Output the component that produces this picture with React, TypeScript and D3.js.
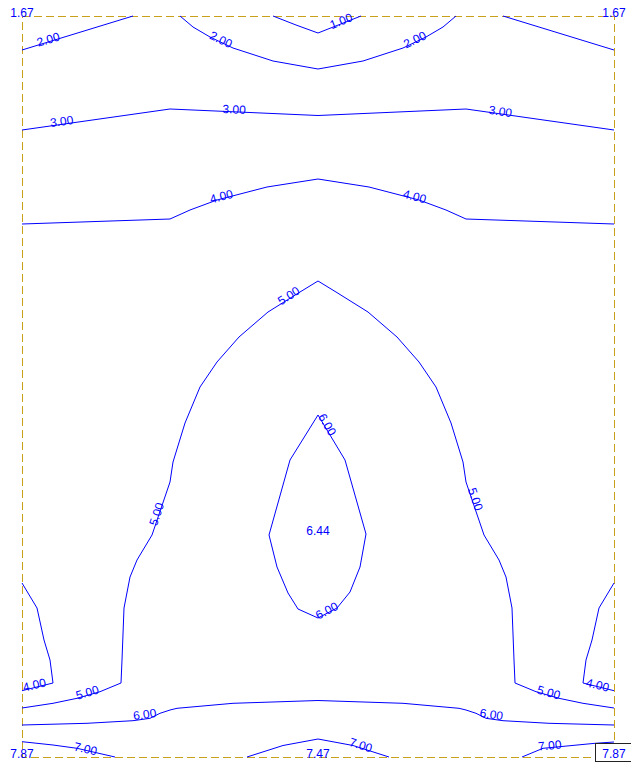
import React from "react";
import * as d3 from "d3";

// Plate extent (m)
const WIDTH_M = 5.92;
const HEIGHT_M = 7.41;

type Pt = [number, number];

// Contour polylines (x, y in m, y measured upward from the bottom edge)
const c100: Pt[] = [[2.51, 7.41], [2.74, 7.32], [2.96, 7.24], [3.39, 7.41]];
const c200a: Pt[] = [[0, 7.07], [1.11, 7.41]];
const c200b: Pt[] = [[1.58, 7.41], [1.71, 7.3], [1.88, 7.2], [2.11, 7.09], [2.51, 6.96], [2.96, 6.88], [3.41, 6.96], [3.81, 7.09], [4.04, 7.2], [4.21, 7.3], [4.34, 7.41]];
const c200c: Pt[] = [[4.81, 7.41], [5.92, 7.07]];
const c300: Pt[] = [[0, 6.27], [1.48, 6.48], [2.96, 6.415], [4.44, 6.48], [5.92, 6.27]];
const c400a: Pt[] = [[0, 5.33], [1.48, 5.38], [1.68, 5.47], [1.95, 5.57], [2.45, 5.7], [2.96, 5.78], [3.47, 5.7], [3.97, 5.57], [4.24, 5.47], [4.44, 5.38], [5.92, 5.33]];
const c400b: Pt[] = [[0, 1.74], [0.15, 1.49], [0.22, 1.17], [0.28, 0.97], [0.31, 0.74], [0, 0.663]];
const c400c: Pt[] = [[5.92, 1.74], [5.77, 1.49], [5.7, 1.17], [5.64, 0.97], [5.61, 0.74], [5.92, 0.663]];
const c500: Pt[] = [
  [0, 0.49], [0.31, 0.537], [0.55, 0.587], [0.78, 0.653], [0.99, 0.74], [1.0, 0.97], [1.02, 1.49], [1.08, 1.8], [1.15, 1.97], [1.3, 2.22], [1.48, 2.75], [1.51, 2.95], [1.63, 3.34], [1.78, 3.7], [1.95, 3.95], [2.17, 4.2], [2.46, 4.45], [2.78, 4.65], [2.96, 4.76],
  [3.14, 4.65], [3.46, 4.45], [3.75, 4.2], [3.97, 3.95], [4.14, 3.7], [4.29, 3.34], [4.41, 2.95], [4.44, 2.75], [4.62, 2.22], [4.77, 1.97], [4.84, 1.8], [4.9, 1.49], [4.92, 0.97], [4.93, 0.74], [5.14, 0.653], [5.37, 0.587], [5.61, 0.537], [5.92, 0.49],
];
const c600a: Pt[] = [[2.96, 3.42], [3.23, 2.97], [3.44, 2.23], [3.38, 1.9], [3.28, 1.65], [3.15, 1.49], [2.96, 1.39], [2.76, 1.48], [2.66, 1.64], [2.55, 1.9], [2.47, 2.22], [2.68, 2.97], [2.96, 3.42]];
const c600b: Pt[] = [[0, 0.32], [0.65, 0.337], [1.11, 0.363], [1.28, 0.387], [1.38, 0.437], [1.48, 0.47], [1.55, 0.487], [2.11, 0.537], [2.96, 0.565], [3.81, 0.537], [4.37, 0.487], [4.44, 0.47], [4.54, 0.437], [4.64, 0.387], [4.81, 0.363], [5.27, 0.337], [5.92, 0.32]];
const c700a: Pt[] = [[0, 0.153], [0.31, 0.12], [0.55, 0.087], [0.93, 0]];
const c700b: Pt[] = [[2.25, 0], [2.61, 0.115], [2.96, 0.18], [3.31, 0.115], [3.67, 0]];
const c700c: Pt[] = [[5.0, 0], [5.21, 0.087], [5.73, 0.137], [5.92, 0.15]];

const contours: { level: string; pts: Pt[] }[] = [
  { level: "1.00", pts: c100 },
  { level: "2.00", pts: c200a },
  { level: "2.00", pts: c200b },
  { level: "2.00", pts: c200c },
  { level: "3.00", pts: c300 },
  { level: "4.00", pts: c400a },
  { level: "4.00", pts: c400b },
  { level: "4.00", pts: c400c },
  { level: "5.00", pts: c500 },
  { level: "6.00", pts: c600a },
  { level: "6.00", pts: c600b },
  { level: "7.00", pts: c700a },
  { level: "7.00", pts: c700b },
  { level: "7.00", pts: c700c },
];

// Contour labels: level and anchor point on the line (m)
const labelLevels = ["1.00", "2.00", "2.00", "2.00", "3.00", "3.00", "3.00", "4.00", "4.00", "4.00", "4.00", "5.00", "5.00", "5.00", "5.00", "5.00", "6.00", "6.00", "6.00", "6.00", "7.00", "7.00", "7.00"];
const labelX = [3.2, 0.27, 1.98, 3.94, 0.4, 2.12, 4.78, 2.0, 3.92, 0.13, 5.75, 2.68, 1.37, 4.51, 0.66, 5.26, 3.03, 3.06, 1.23, 4.69, 0.63, 3.38, 5.28];
const labelY = [7.335, 7.15, 7.15, 7.15, 6.33, 6.45, 6.43, 5.58, 5.58, 0.695, 0.695, 4.59, 2.42, 2.57, 0.62, 0.62, 3.31, 1.44, 0.4, 0.4, 0.055, 0.095, 0.09];

// Node values (corners, extremes)
const nodeText = ["1.67", "1.67", "7.87", "7.47", "7.87", "6.44"];
const nodeX = [0, 5.92, 0, 2.96, 5.92, 2.96];
const nodeY = [7.41, 7.41, 0, 0, 0, 2.23];
const nodeBoxed = [false, false, false, false, true, false];

const BLUE = "#0000ff";
const GOLD = "#c8a01a";
const FONT = "Arial, 'Liberation Sans', sans-serif";

export default function App() {
  const x = d3.scaleLinear().domain([0, WIDTH_M]).range([22, 614]);
  const y = d3.scaleLinear().domain([0, HEIGHT_M]).range([757, 16]);
  const line = d3
    .line<Pt>()
    .x((d) => x(d[0]))
    .y((d) => y(d[1]));

  const labelAngle = (lvl: string, lx: number, ly: number) => {
    const px = x(lx);
    const py = y(ly);
    let best = Infinity;
    let ang = 0;
    contours
      .filter((c) => c.level === lvl)
      .forEach((c) => {
        for (let i = 0; i < c.pts.length - 1; i++) {
          const ax = x(c.pts[i][0]), ay = y(c.pts[i][1]);
          const bx = x(c.pts[i + 1][0]), by = y(c.pts[i + 1][1]);
          const dx = bx - ax, dy = by - ay;
          const len2 = dx * dx + dy * dy || 1;
          let t = ((px - ax) * dx + (py - ay) * dy) / len2;
          t = Math.max(0, Math.min(1, t));
          const qx = ax + t * dx, qy = ay + t * dy;
          const dist = Math.hypot(px - qx, py - qy);
          if (dist < best) {
            best = dist;
            ang = (Math.atan2(dy, dx) * 180) / Math.PI;
          }
        }
      });
    if (ang > 90) ang -= 180;
    if (ang <= -90) ang += 180;
    return ang;
  };

  return (
    <svg
      width={631}
      height={765}
      style={{ position: "absolute", left: 0, top: 0, background: "#fff" }}
    >
      <rect
        x={x(0)}
        y={y(HEIGHT_M)}
        width={x(WIDTH_M) - x(0)}
        height={y(0) - y(HEIGHT_M)}
        fill="none"
        stroke={GOLD}
        strokeWidth={1}
        strokeDasharray="8,4"
        shapeRendering="crispEdges"
      />
      {contours.map((c, i) => (
        <path key={i} d={line(c.pts) || ""} fill="none" stroke={BLUE} strokeWidth={1} />
      ))}
      {labelLevels.map((lvl, i) => {
        const a = labelAngle(lvl, labelX[i], labelY[i]);
        return (
          <text
            key={"l" + i}
            transform={`translate(${x(labelX[i])},${y(labelY[i])}) rotate(${a})`}
            y={1.5}
            textAnchor="middle"
            fontFamily={FONT}
            fontSize={12}
            fill={BLUE}
          >
            {lvl}
          </text>
        );
      })}
      {nodeText.map((t, i) => (
        <g key={"n" + i}>
          {nodeBoxed[i] && (
            <rect
              x={x(nodeX[i]) - 18.5}
              y={y(nodeY[i]) - 13.5}
              width={37}
              height={18}
              fill="#fff"
              stroke="#222"
              strokeWidth={1}
              shapeRendering="crispEdges"
            />
          )}
          <text
            x={x(nodeX[i])}
            y={y(nodeY[i]) + 0.5}
            textAnchor="middle"
            fontFamily={FONT}
            fontSize={12}
            fill={BLUE}
          >
            {t}
          </text>
        </g>
      ))}
    </svg>
  );
}
